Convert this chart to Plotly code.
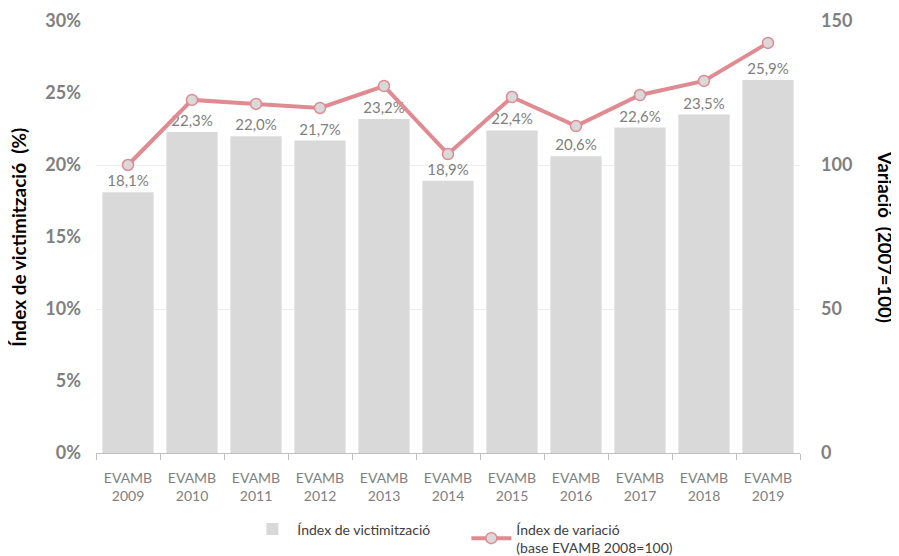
import plotly.graph_objects as go

categories = ["EVAMB<br>2009", "EVAMB<br>2010", "EVAMB<br>2011", "EVAMB<br>2012", "EVAMB<br>2013",
              "EVAMB<br>2014", "EVAMB<br>2015", "EVAMB<br>2016", "EVAMB<br>2017", "EVAMB<br>2018",
              "EVAMB<br>2019"]
victim_pct = [18.1, 22.3, 22.0, 21.7, 23.2, 18.9, 22.4, 20.6, 22.6, 23.5, 25.9]
variation_idx = [100.0, 122.6, 121.2, 119.8, 127.4, 103.8, 123.6, 113.5, 124.3, 129.2, 142.4]
bar_labels = [f"{v:.1f}%".replace(".", ",") for v in victim_pct]

FONT = "Lato"
GRAY = "#808080"

fig = go.Figure()
fig.add_trace(go.Bar(
    x=categories, y=[v / 100 for v in victim_pct],
    name="Índex de victimització",
    marker=dict(color="#d9d9d9", line=dict(width=0)),
    text=bar_labels, textposition="outside",
    textfont=dict(color=GRAY, size=15, family=FONT),
    cliponaxis=False,
    yaxis="y",
))
fig.add_trace(go.Scatter(
    x=categories, y=variation_idx,
    name="Índex de variació<br>(base EVAMB 2008=100)",
    mode="lines+markers",
    line=dict(color="#e08a92", width=4),
    marker=dict(size=11, color="#d9d9d9", line=dict(color="#e08a92", width=1.5)),
    yaxis="y2",
    cliponaxis=False,
))

fig.update_layout(
    width=891, height=548,
    margin=dict(l=88, r=99, t=13, b=103, autoexpand=False),
    paper_bgcolor="white", plot_bgcolor="white",
    font=dict(family=FONT, color="#404040"),
    bargap=0.2,
    showlegend=True,
    legend=dict(orientation="h", x=0.215, xanchor="left", y=-0.14, yanchor="top",
                font=dict(size=14, color="#404040", family=FONT),
                traceorder="normal", itemwidth=40, entrywidth=164),
    xaxis=dict(
        range=[-0.5, len(categories) - 0.5],
        tickfont=dict(size=14, color=GRAY, family=FONT),
        showline=True, linecolor="#bfbfbf", linewidth=1,
        ticks="outside", tickson="boundaries", ticklen=6, tickcolor="#bfbfbf",
        showgrid=False, automargin=False, ticklabelstandoff=12,
    ),
    yaxis=dict(
        range=[0, 0.30], dtick=0.05, tickformat=".0%",
        tickfont=dict(size=18, color=GRAY, family=FONT, weight="bold"),
        showgrid=False, zeroline=False, automargin=False,
        ticks="", ticklabelstandoff=14,
    ),
    yaxis2=dict(
        range=[0, 150], dtick=50, overlaying="y", side="right",
        tickfont=dict(size=18, color=GRAY, family=FONT, weight="bold"),
        showgrid=True, gridcolor="#eeeeee", gridwidth=1, zeroline=False,
        automargin=False, ticklabelstandoff=20,
    ),
    annotations=[
        dict(text="Índex de victimització  (%)", xref="paper", yref="paper",
             x=-0.111, y=0.5, textangle=-90, showarrow=False,
             xanchor="center", yanchor="middle",
             font=dict(size=19, color="black", family=FONT, weight="bold")),
        dict(text="Variació  (2007=100)", xref="paper", yref="paper",
             x=1.121, y=0.5, textangle=90, showarrow=False,
             xanchor="center", yanchor="middle",
             font=dict(size=18.5, color="black", family=FONT, weight="bold")),
    ],
)

fig.write_html("out.html")
